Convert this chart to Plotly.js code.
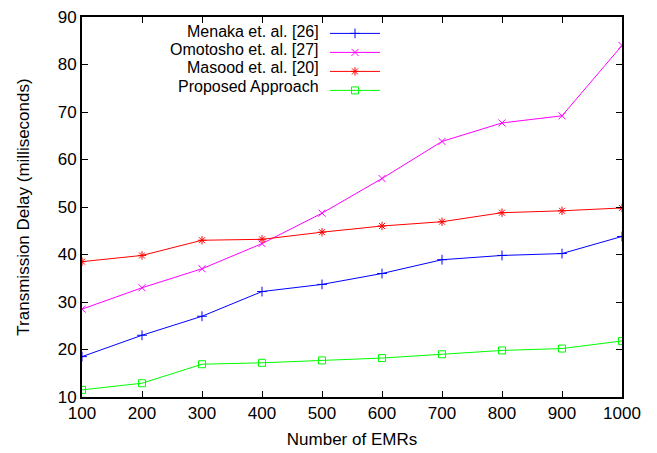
<!DOCTYPE html>
<html><head><meta charset="utf-8">
<script src="https://cdn.plot.ly/plotly-3.0.1.min.js"></script>
<style>html,body{margin:0;padding:0;background:#fff}#chart{width:657px;height:453px}</style>
</head><body><div id="chart"></div>
<script>
const emrs = [100, 200, 300, 400, 500, 600, 700, 800, 900, 1000];
const menaka = [18.5, 23, 27, 32.2, 33.7, 36, 38.9, 39.8, 40.2, 43.8];
const omotosho = [28.5, 33, 37, 42.3, 48.7, 56, 63.8, 67.7, 69.2, 84];
const masood = [38.5, 39.8, 43, 43.2, 44.7, 46, 46.9, 48.8, 49.2, 49.8];
const proposed = [11.5, 12.9, 16.9, 17.2, 17.7, 18.2, 19, 19.8, 20.2, 21.8];
const seriesNames = ["Menaka et. al. [26]", "Omotosho et. al. [27]", "Masood et. al. [20]", "Proposed Approach"];
const xTicks = [100, 200, 300, 400, 500, 600, 700, 800, 900, 1000];
const yTicks = [10, 20, 30, 40, 50, 60, 70, 80, 90];

const colors = ["#0000ff", "#ff00ff", "#ff0000", "#00ff00"];
const symbols = ["cross-thin", "x-thin", "asterisk", "square-open"];
const sizes = [7, 7, 7, 7];
const data = [menaka, omotosho, masood, proposed].map((ys, i) => ({
  x: emrs, y: ys, type: "scatter", mode: "lines+markers", name: " ",
  line: {color: colors[i], width: 1},
  marker: {symbol: symbols[i], size: sizes[i], color: colors[i], line: {color: colors[i], width: 1}}
}));

const fam = "Liberation Sans, Arial, sans-serif";
const font = {family: fam, size: 17, color: "#000"};
const legendRowsY = [0.961, 0.915, 0.867, 0.818];
const annotations = seriesNames.map((n, i) => ({
  text: n, xref: "paper", yref: "paper", x: 0.442, y: legendRowsY[i],
  xanchor: "right", yanchor: "middle", showarrow: false, font: {family: fam, size: 16, color: "#000"}
}));

const layout = {
  width: 657, height: 453,
  margin: {l: 82, r: 35, t: 17, b: 56},
  paper_bgcolor: "#fff", plot_bgcolor: "#fff",
  font: font,
  showlegend: true,
  legend: {x: 0.45, y: 0.995, xanchor: "left", yanchor: "top", bgcolor: "rgba(0,0,0,0)",
           font: {family: fam, size: 10}, tracegroupgap: 0, itemwidth: 50},
  xaxis: {
    range: [100, 1000], tickvals: xTicks, ticktext: xTicks.map(String),
    ticks: "inside", ticklen: 6, tickcolor: "#000", tickwidth: 1,
    showline: true, linecolor: "#000", linewidth: 2, mirror: "ticks",
    showgrid: false, zeroline: false, tickfont: {family: fam, size: 17},
    title: {text: "Number of EMRs", font: {family: fam, size: 17}, standoff: 11}
  },
  yaxis: {
    range: [10, 90], tickvals: yTicks, ticktext: yTicks.map(String),
    ticks: "inside", ticklen: 6, tickcolor: "#000", tickwidth: 1,
    showline: true, linecolor: "#000", linewidth: 2, mirror: "ticks",
    showgrid: false, zeroline: false, tickfont: {family: fam, size: 17},
    title: {text: "Transmission Delay (milliseconds)", font: {family: fam, size: 17}, standoff: 24}
  },
  annotations: annotations
};
Plotly.newPlot("chart", data, layout, {displayModeBar: false, staticPlot: true});
</script>
</body></html>
